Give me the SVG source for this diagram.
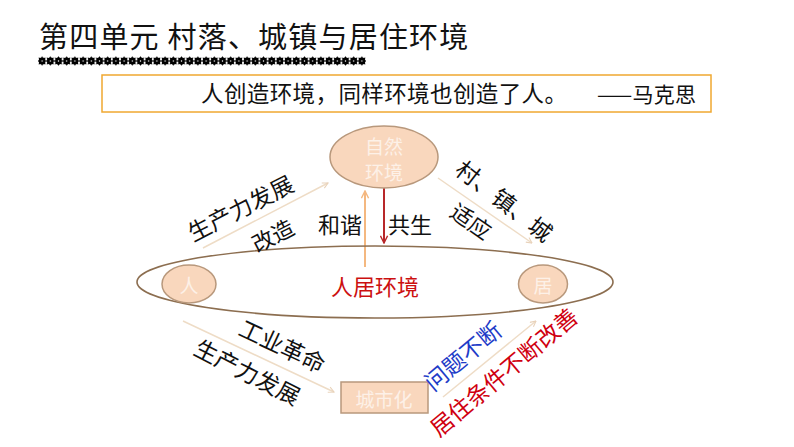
<svg xmlns="http://www.w3.org/2000/svg" width="794" height="447" viewBox="0 0 794 447">
<style>
.cjk{font-family:"Noto Sans CJK SC","Noto Sans",sans-serif;}
.lbl{font-family:"Noto Sans CJK SC","Noto Sans",sans-serif;font-size:22px;fill:#111;text-anchor:middle;dominant-baseline:central;}
.node{fill:#F9D7BD;stroke:#B8987C;stroke-width:1.5;}
.ntxt{font-family:"Noto Sans CJK SC","Noto Sans",sans-serif;font-size:19px;fill:#FDF1E8;text-anchor:middle;dominant-baseline:central;}
.diag{stroke:#EEDCC6;stroke-width:1.5;fill:none;marker-end:url(#ah);}
</style>
<defs>
<marker id="ah" viewBox="0 0 10 10" refX="9" refY="5" markerWidth="7" markerHeight="7" orient="auto" markerUnits="userSpaceOnUse">
<path d="M1,1 L9,5 L1,9" fill="none" stroke="#E8D2BA" stroke-width="1.5"/>
</marker>
<marker id="ahO" viewBox="0 0 10 10" refX="9" refY="5" markerWidth="9" markerHeight="9" orient="auto" markerUnits="userSpaceOnUse">
<path d="M1,1 L9,5 L1,9" fill="none" stroke="#F4B880" stroke-width="1.6"/>
</marker>
<marker id="ahR" viewBox="0 0 10 10" refX="9" refY="5" markerWidth="9" markerHeight="9" orient="auto" markerUnits="userSpaceOnUse">
<path d="M1,1 L9,5 L1,9" fill="none" stroke="#B8282A" stroke-width="1.6"/>
</marker>
<pattern id="stars" x="38" y="56" width="8.2" height="10" patternUnits="userSpaceOnUse">
<polygon points="4.1,0.3 5.5,1.9 7.6,1.5 7.2,3.6 8.2,5 7.2,6.4 7.6,8.5 5.5,8.1 4.1,9.7 2.7,8.1 0.6,8.5 1,6.4 0,5 1,3.6 0.6,1.5 2.7,1.9" fill="#000"/>
<circle cx="4.1" cy="5" r="0.7" fill="#fff"/>
</pattern>
</defs>

<g id="title">
<text x="39" y="48" class="cjk" font-size="29" letter-spacing="1.2" fill="#111">第四单元 村落、城镇与居住环境</text>
<rect x="38" y="56" width="328" height="10" fill="url(#stars)"/>
</g>

<g id="quote">
<rect x="102" y="75" width="609" height="37" fill="#fff" stroke="#F0A830" stroke-width="1.5"/>
<text x="201" y="102" class="cjk" font-size="22.5" letter-spacing="0.4" fill="#111">人创造环境，同样环境也创造了人。</text>
<text x="597" y="102" class="cjk" font-size="21" fill="#111" textLength="99" lengthAdjust="spacing">——马克思</text>
</g>

<g id="connectors">
<line x1="203" y1="248" x2="328" y2="183" class="diag"/>
<line x1="438" y1="178" x2="532" y2="243" class="diag"/>
<line x1="183" y1="321" x2="334" y2="392" class="diag"/>
<line x1="443" y1="397" x2="536" y2="321" class="diag"/>
<line x1="365" y1="267" x2="365" y2="191" stroke="#F4B880" stroke-width="2" marker-end="url(#ahO)"/>
<line x1="384" y1="188" x2="384" y2="243" stroke="#B8282A" stroke-width="2" marker-end="url(#ahR)"/>
</g>

<g id="habitat">
<ellipse cx="375" cy="282" rx="238" ry="36" fill="none" stroke="#8C6E50" stroke-width="1.6"/>
<text x="375" y="285" class="lbl" style="fill:#CC1010">人居环境</text>
</g>

<g id="nature">
<ellipse cx="384" cy="157" rx="54" ry="31" class="node"/>
<text x="384" y="145" class="ntxt">自然</text>
<text x="384" y="171" class="ntxt">环境</text>
</g>

<g id="person">
<ellipse cx="189" cy="284" rx="27" ry="19" class="node"/>
<text x="189" y="284" class="ntxt">人</text>
</g>

<g id="dwelling">
<ellipse cx="543" cy="284" rx="24.5" ry="19" class="node"/>
<text x="543" y="284" class="ntxt">居</text>
</g>

<g id="urban">
<rect x="341" y="382" width="87" height="31" class="node"/>
<text x="384" y="398" class="ntxt">城市化</text>
</g>

<g id="labels">
<text x="240" y="207" class="lbl" style="font-size:23px" transform="rotate(-27 240 207)">生产力发展</text>
<text x="272" y="234" class="lbl" transform="rotate(-27 272 234)">改造</text>
<text x="340" y="223" class="lbl">和谐</text>
<text x="410" y="223" class="lbl">共生</text>
<text x="505" y="200" class="lbl" style="font-size:23px" transform="rotate(38 505 200)">村、镇、城</text>
<text x="472" y="220" class="lbl" transform="rotate(35 472 220)">适应</text>
<text x="283" y="345" class="lbl" style="font-size:23px" transform="rotate(25 283 345)">工业革命</text>
<text x="248" y="371" class="lbl" style="font-size:23px" transform="rotate(27 248 371)">生产力发展</text>
<text x="462" y="355" class="lbl" style="font-size:23px;fill:#1E3CC8" transform="rotate(-40 462 355)">问题不断</text>
<text x="503" y="371" class="lbl" style="font-size:23px;fill:#D00010" transform="rotate(-40 503 371)">居住条件不断改善</text>
</g>
</svg>
